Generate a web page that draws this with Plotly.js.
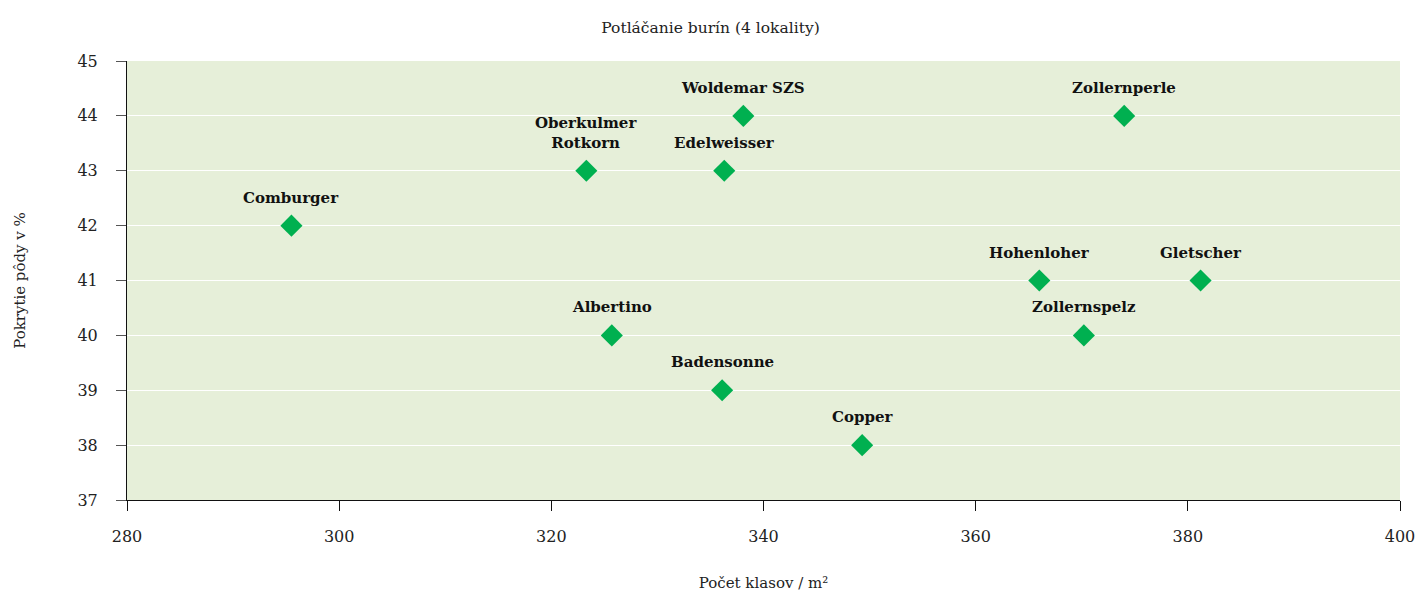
<!DOCTYPE html>
<html>
<head>
<meta charset="utf-8">
<script src="https://cdn.plot.ly/plotly-3.0.1.min.js"></script>
<style>html,body{margin:0;padding:0;background:#fff;}#chart{width:1421px;height:592px;}</style>
</head>
<body>
<div id="chart"></div>
<script>
const varieties = ["Comburger", "Oberkulmer<br>Rotkorn", "Albertino", "Woldemar SZS", "Edelweisser", "Badensonne", "Copper", "Hohenloher", "Zollernspelz", "Zollernperle", "Gletscher"];
const earsPerM2 = [295.5, 323.3, 325.7, 338.1, 336.3, 336.1, 349.3, 366.0, 370.2, 374.0, 381.2];
const soilCover = [42, 43, 40, 44, 43, 39, 38, 41, 40, 44, 41];

const font = "DejaVu Serif, Liberation Serif, serif";

const trace = {
  x: earsPerM2,
  y: soilCover,
  mode: "markers",
  type: "scatter",
  marker: {symbol: "diamond", size: 17, color: "#00b050"},
  hoverinfo: "none",
  cliponaxis: false
};

const annotations = varieties.map((v, i) => ({
  x: earsPerM2[i],
  y: soilCover[i],
  xref: "x",
  yref: "y",
  text: "<b>" + v + "</b>",
  showarrow: false,
  xanchor: "center",
  yanchor: "bottom",
  yshift: 17,
  font: {family: font, size: 15, color: "#111"}
}));

const layout = {
  width: 1421,
  height: 592,
  margin: {l: 127, r: 21, t: 61, b: 92},
  paper_bgcolor: "#ffffff",
  plot_bgcolor: "#e6efd9",
  showlegend: false,
  font: {family: font, size: 15, color: "#222"},
  annotations: annotations,
  title: {text: "Potláčanie burín (4 lokality)", x: 0.5, xanchor: "center", y: 0.962, yanchor: "top", font: {family: font, size: 15.5, color: "#222"}},
  xaxis: {
    range: [280, 400],
    dtick: 20,
    tick0: 280,
    showgrid: false,
    zeroline: false,
    showline: true,
    linecolor: "#111",
    linewidth: 1,
    ticks: "outside",
    ticklen: 10,
    tickcolor: "#111",
    ticklabelstandoff: 12,
    tickfont: {family: font, size: 16, color: "#222"},
    title: {text: "Počet klasov / m²", font: {family: font, size: 15, color: "#222"}, standoff: 36}
  },
  yaxis: {
    range: [37, 45],
    dtick: 1,
    showgrid: true,
    gridcolor: "#ffffff",
    gridwidth: 1,
    zeroline: false,
    showline: true,
    linecolor: "#111",
    linewidth: 1,
    ticks: "outside",
    ticklen: 10,
    tickcolor: "#555",
    ticklabelstandoff: 15,
    tickfont: {family: font, size: 16, color: "#222"},
    title: {text: "Pokrytie pôdy v %", font: {family: font, size: 15, color: "#222"}, standoff: 48}
  }
};

Plotly.newPlot("chart", [trace], layout, {displayModeBar: false, staticPlot: true});
</script>
</body>
</html>
